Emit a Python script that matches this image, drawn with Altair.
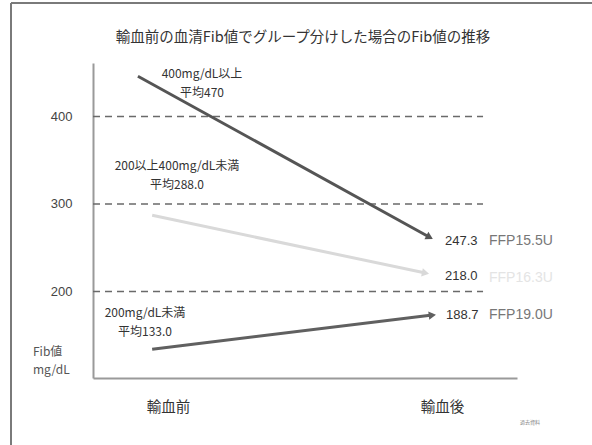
import altair as alt
import pandas as pd

# ---- data ----
groups = ["400mg/dL以上", "200以上400mg/dL未満", "200mg/dL未満"]
mean_labels = ["平均470", "平均288.0", "平均133.0"]
before_vals = [446, 287, 134]      # line start (as drawn)
after_vals = [262, 221, 173]       # line end (as drawn)
start_pos = [-0.11, -0.058, -0.058]
end_pos = [0.955, 0.94, 0.965]
after_labels = ["247.3", "218.0", "188.7"]
ffp_labels = ["FFP15.5U", "FFP16.3U", "FFP19.0U"]
phase_labels = ["輸血前", "輸血後"]
grid_vals = [200, 300, 400]

W, H = 424, 315
PL, PT = 93, 63
JP = "Noto Sans CJK JP"
LAT = "Liberation Sans"

xs = alt.Scale(domain=[-0.274, 1.274], nice=False, zero=False)
ys = alt.Scale(domain=[101.1, 461.1], nice=False, zero=False)

line_colors = ["#555555", "#d9d9d9", "#606060"]
arrow_angles = [28, 12, 353]
ffp_colors = ["#777777", "#e4e4e4", "#777777"]

xaxis = alt.Axis(values=[0, 1], title=None, ticks=False, grid=False,
                 domainColor="#9a9a9a", domainWidth=2,
                 labelExpr="datum.value == 0 ? '%s' : '%s'" % (phase_labels[0], phase_labels[1]),
                 labelFont=JP, labelFontSize=14.5, labelColor="#333333", labelPadding=22)
yaxis = alt.Axis(values=grid_vals, title=None, ticks=False, grid=False,
                 domainColor="#9a9a9a", domainWidth=2,
                 labelFont=LAT, labelFontSize=13, labelColor="#444444", labelPadding=21)

grid_df = pd.DataFrame({"v": grid_vals, "x0": [-0.274] * 3, "x1": [1.15] * 3})
base_axes = alt.Chart(grid_df).mark_rule(color="#6a6a6a", strokeWidth=1.4, strokeDash=[7, 5]).encode(
    x=alt.X("x0:Q", scale=xs, axis=xaxis),
    x2="x1:Q",
    y=alt.Y("v:Q", scale=ys, axis=yaxis),
)

layers = [base_axes]
for i in range(3):
    ldf = pd.DataFrame({"pos": [start_pos[i], end_pos[i]],
                        "val": [before_vals[i], after_vals[i]]})
    layers.append(alt.Chart(ldf).mark_line(color=line_colors[i], strokeWidth=3).encode(
        x=alt.X("pos:Q", scale=xs), y=alt.Y("val:Q", scale=ys)))
    edf = pd.DataFrame({"pos": [end_pos[i]], "val": [after_vals[i]],
                        "lab": [after_labels[i]], "ffp": [ffp_labels[i]]})
    layers.append(alt.Chart(edf).mark_point(shape="triangle-right", filled=True, size=70,
                                            opacity=1, color=line_colors[i],
                                            angle=arrow_angles[i]).encode(
        x=alt.X("pos:Q", scale=xs), y=alt.Y("val:Q", scale=ys)))

# end value labels and FFP labels
end_text_pos = [(445, 241), (445, 276), (446, 315)]
for i in range(3):
    tx, ty = end_text_pos[i]
    tdf = pd.DataFrame({"lab": [after_labels[i]], "ffp": [ffp_labels[i]]})
    layers.append(alt.Chart(tdf).mark_text(align="left", baseline="middle", font=LAT,
                                           fontSize=13, color="#333333").encode(
        x=alt.value(tx - PL), y=alt.value(ty - PT), text="lab:N"))
    layers.append(alt.Chart(tdf).mark_text(align="left", baseline="middle", font=LAT,
                                           fontSize=14, color=ffp_colors[i]).encode(
        x=alt.value(489 - PL), y=alt.value(ty + (2 if i == 1 else 0) - PT), text="ffp:N"))

# group labels
grp_pos = [(202, 74, 93), (177, 166, 185), (145, 313, 332)]
for i in range(3):
    cx, y1, y2 = grp_pos[i]
    gdf = pd.DataFrame({"g": [groups[i]], "m": [mean_labels[i]]})
    layers.append(alt.Chart(gdf).mark_text(align="center", baseline="middle", font=JP,
                                           fontSize=12, color="#333333").encode(
        x=alt.value(cx - PL), y=alt.value(y1 - PT), text="g:N"))
    layers.append(alt.Chart(gdf).mark_text(align="center", baseline="middle", font=JP,
                                           fontSize=12, color="#333333").encode(
        x=alt.value(cx - PL), y=alt.value(y2 - PT), text="m:N"))

# title, y-axis caption, footnote
misc = pd.DataFrame({
    "title": ["輸血前の血清Fib値でグループ分けした場合のFib値の推移"],
    "y1": ["Fib値"], "y2": ["mg/dL"], "note": ["過去資料"],
})
layers.append(alt.Chart(misc).mark_text(align="center", baseline="middle", font=JP,
                                        fontSize=14.5, color="#333333").encode(
    x=alt.value(303 - PL), y=alt.value(38 - PT), text="title:N"))
layers.append(alt.Chart(misc).mark_text(align="left", baseline="middle", font=JP,
                                        fontSize=12, color="#555555").encode(
    x=alt.value(33 - PL), y=alt.value(352 - PT), text="y1:N"))
layers.append(alt.Chart(misc).mark_text(align="left", baseline="middle", font=JP,
                                        fontSize=12, color="#555555").encode(
    x=alt.value(33 - PL), y=alt.value(370 - PT), text="y2:N"))
layers.append(alt.Chart(misc).mark_text(align="center", baseline="middle", font=JP,
                                        fontSize=5, color="#888888").encode(
    x=alt.value(530 - PL), y=alt.value(422 - PT), text="note:N"))

# slide frame (left and top edges)
frame_df = pd.DataFrame({"k": [0]})
layers.append(alt.Chart(frame_df).mark_rule(color="#7a7a7a", strokeWidth=2).encode(
    x=alt.value(11 - PL), y=alt.value(3 - PT), y2=alt.value(445 - PT)))
layers.append(alt.Chart(frame_df).mark_rule(color="#7a7a7a", strokeWidth=2).encode(
    x=alt.value(11 - PL), x2=alt.value(592 - PL), y=alt.value(3 - PT)))

chart = alt.layer(*layers).properties(
    width=W, height=H,
    autosize=alt.AutoSizeParams(type="none"),
    padding={"left": PL, "top": PT, "right": 592 - PL - W, "bottom": 445 - PT - H},
    background="white",
).configure_view(stroke=None)

chart.save("out.html", embed_options={"renderer": "svg", "actions": False})
